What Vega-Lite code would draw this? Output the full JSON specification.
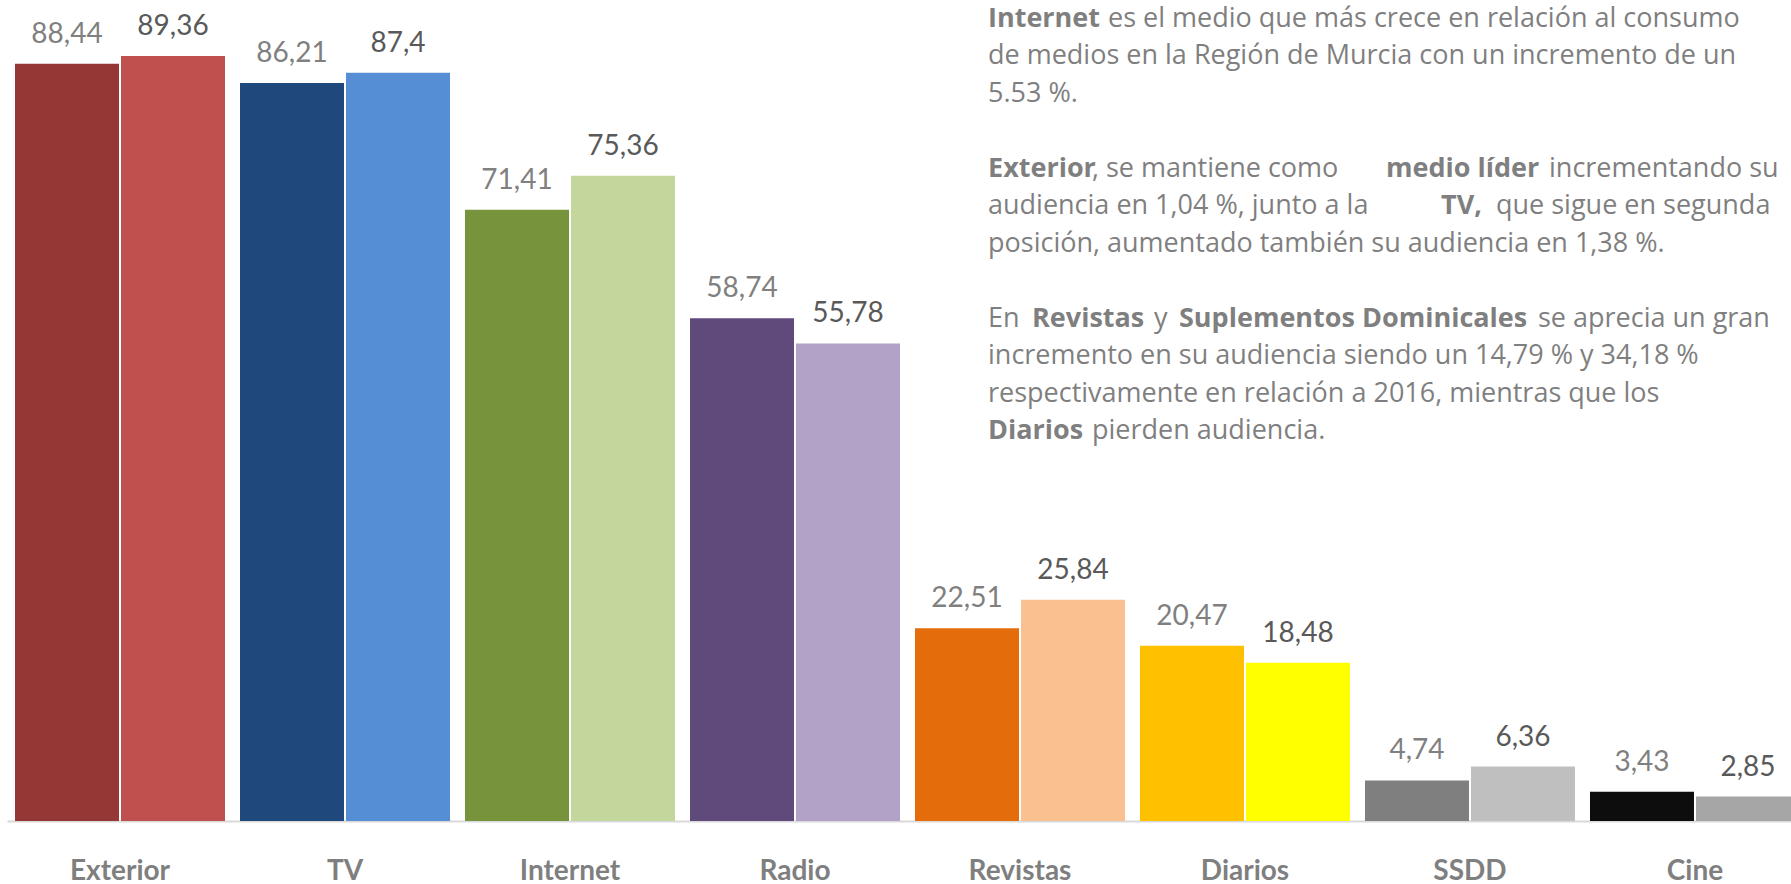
{
  "$schema": "https://vega.github.io/schema/vega-lite/v6.json",
  "width": 1784,
  "height": 821,
  "autosize": {"type": "none"},
  "padding": {"left": 7, "top": 0, "right": 0, "bottom": 63},
  "background": "white",
  "config": {
    "view": {"stroke": null},
    "locale": {"number": {"decimal": ",", "thousands": ".", "grouping": [3], "currency": ["", " €"]}},
    "text": {"font": "Open Sans", "fontSize": 27, "align": "left", "baseline": "alphabetic", "color": "#7f7f7f"}
  },
  "datasets": {
    "medios": [
      {"medio": "Exterior", "anio": "2016", "clave": "Exterior 2016", "valor": 88.44},
      {"medio": "Exterior", "anio": "2017", "clave": "Exterior 2017", "valor": 89.36},
      {"medio": "TV", "anio": "2016", "clave": "TV 2016", "valor": 86.21},
      {"medio": "TV", "anio": "2017", "clave": "TV 2017", "valor": 87.4},
      {"medio": "Internet", "anio": "2016", "clave": "Internet 2016", "valor": 71.41},
      {"medio": "Internet", "anio": "2017", "clave": "Internet 2017", "valor": 75.36},
      {"medio": "Radio", "anio": "2016", "clave": "Radio 2016", "valor": 58.74},
      {"medio": "Radio", "anio": "2017", "clave": "Radio 2017", "valor": 55.78},
      {"medio": "Revistas", "anio": "2016", "clave": "Revistas 2016", "valor": 22.51},
      {"medio": "Revistas", "anio": "2017", "clave": "Revistas 2017", "valor": 25.84},
      {"medio": "Diarios", "anio": "2016", "clave": "Diarios 2016", "valor": 20.47},
      {"medio": "Diarios", "anio": "2017", "clave": "Diarios 2017", "valor": 18.48},
      {"medio": "SSDD", "anio": "2016", "clave": "SSDD 2016", "valor": 4.74},
      {"medio": "SSDD", "anio": "2017", "clave": "SSDD 2017", "valor": 6.36},
      {"medio": "Cine", "anio": "2016", "clave": "Cine 2016", "valor": 3.43},
      {"medio": "Cine", "anio": "2017", "clave": "Cine 2017", "valor": 2.85}
    ],
    "texto": [
      {"grupo": "base_b", "linea": 0, "texto": "Internet"},
      {"grupo": "l0a", "linea": 0, "texto": "es el medio que más crece en relación al consumo"},
      {"grupo": "base", "linea": 1, "texto": "de medios en la Región de Murcia con un incremento de un"},
      {"grupo": "base", "linea": 2, "texto": "5.53 %."},
      {"grupo": "base_b", "linea": 4, "texto": "Exterior"},
      {"grupo": "l4a", "linea": 4, "texto": ", se mantiene como"},
      {"grupo": "l4b", "linea": 4, "texto": "medio líder"},
      {"grupo": "l4c", "linea": 4, "texto": "incrementando su"},
      {"grupo": "base", "linea": 5, "texto": "audiencia en 1,04 %, junto a la"},
      {"grupo": "l5b", "linea": 5, "texto": "TV,"},
      {"grupo": "l5c", "linea": 5, "texto": "que sigue en segunda"},
      {"grupo": "base", "linea": 6, "texto": "posición, aumentado también su audiencia en 1,38 %."},
      {"grupo": "base", "linea": 8, "texto": "En"},
      {"grupo": "l8b", "linea": 8, "texto": "Revistas"},
      {"grupo": "l8c", "linea": 8, "texto": "y"},
      {"grupo": "l8d", "linea": 8, "texto": "Suplementos Dominicales"},
      {"grupo": "l8e", "linea": 8, "texto": "se aprecia un gran"},
      {"grupo": "base", "linea": 9, "texto": "incremento en su audiencia siendo un 14,79 % y 34,18 %"},
      {"grupo": "base", "linea": 10, "texto": "respectivamente en relación a 2016, mientras que los"},
      {"grupo": "base_b", "linea": 11, "texto": "Diarios"},
      {"grupo": "l11a", "linea": 11, "texto": "pierden audiencia."}
    ]
  },
  "layer": [
    {
      "data": {"name": "medios"},
      "mark": {"type": "bar"},
      "encoding": {
        "x": {
          "field": "medio", "type": "nominal", "sort": null,
          "scale": {"range": [0, 1801], "paddingInner": 0.0667, "paddingOuter": 0.0356},
          "axis": {
            "title": null, "ticks": false, "grid": false,
            "domainColor": "#d9d9d9", "domainWidth": 2,
            "labelFont": "Lato", "labelFontWeight": "bold", "labelFontSize": 28,
            "labelColor": "#7f7f7f", "labelBaseline": "alphabetic", "labelPadding": 58,
            "labelAngle": 0
          }
        },
        "xOffset": {"field": "anio", "type": "nominal", "scale": {"paddingInner": 0.0189, "paddingOuter": 0}},
        "y": {"field": "valor", "type": "quantitative", "scale": {"domain": [0, 95.9], "nice": false}, "axis": null},
        "color": {
          "field": "clave", "type": "nominal", "legend": null,
          "scale": {
            "domain": ["Exterior 2016", "Exterior 2017", "TV 2016", "TV 2017", "Internet 2016", "Internet 2017", "Radio 2016", "Radio 2017", "Revistas 2016", "Revistas 2017", "Diarios 2016", "Diarios 2017", "SSDD 2016", "SSDD 2017", "Cine 2016", "Cine 2017"],
            "range": ["#953735", "#C0504D", "#1F497D", "#558ED5", "#77933C", "#C3D69B", "#604A7B", "#B3A2C7", "#E46C0A", "#FAC090", "#FFC000", "#FFFF00", "#7F7F7F", "#BFBFBF", "#0D0D0D", "#A6A6A6"]
          }
        }
      }
    },
    {
      "data": {"name": "medios"},
      "mark": {"type": "text", "font": "Lato", "fontSize": 28, "align": "center", "baseline": "alphabetic", "dy": -21},
      "encoding": {
        "x": {"field": "medio", "type": "nominal", "sort": null},
        "xOffset": {"field": "anio", "type": "nominal"},
        "y": {"field": "valor", "type": "quantitative", "scale": {"domain": [0, 95.9], "nice": false}, "axis": null},
        "text": {"field": "valor", "type": "quantitative", "format": ".2~f"},
        "color": {"condition": {"test": "datum.anio == '2016'", "value": "#808080"}, "value": "#595959"}
      }
    },
    {
      "data": {"name": "texto"},
      "transform": [{"filter": "datum.grupo == 'base'"}],
      "mark": {"type": "text", "dx": 73},
      "encoding": {
        "x": {"datum": "Revistas", "bandPosition": 0},
        "y": {"field": "linea", "type": "quantitative", "scale": {"domain": [0, 11], "range": [27, 439], "nice": false, "zero": false}, "axis": null},
        "text": {"field": "texto"}
      }
    },
    {
      "data": {"name": "texto"},
      "transform": [{"filter": "datum.grupo == 'base_b'"}],
      "mark": {"type": "text", "fontWeight": "bold", "dx": 73},
      "encoding": {
        "x": {"datum": "Revistas", "bandPosition": 0},
        "y": {"field": "linea", "type": "quantitative", "scale": {"domain": [0, 11], "range": [27, 439], "nice": false, "zero": false}, "axis": null},
        "text": {"field": "texto"}
      }
    },
    {
      "data": {"name": "texto"},
      "transform": [{"filter": "datum.grupo == 'l0a'"}],
      "mark": {"type": "text", "dx": 193},
      "encoding": {
        "x": {"datum": "Revistas", "bandPosition": 0},
        "y": {"field": "linea", "type": "quantitative", "scale": {"domain": [0, 11], "range": [27, 439], "nice": false, "zero": false}, "axis": null},
        "text": {"field": "texto"}
      }
    },
    {
      "data": {"name": "texto"},
      "transform": [{"filter": "datum.grupo == 'l4a'"}],
      "mark": {"type": "text", "dx": 177},
      "encoding": {
        "x": {"datum": "Revistas", "bandPosition": 0},
        "y": {"field": "linea", "type": "quantitative", "scale": {"domain": [0, 11], "range": [27, 439], "nice": false, "zero": false}, "axis": null},
        "text": {"field": "texto"}
      }
    },
    {
      "data": {"name": "texto"},
      "transform": [{"filter": "datum.grupo == 'l4b'"}],
      "mark": {"type": "text", "fontWeight": "bold", "dx": 471},
      "encoding": {
        "x": {"datum": "Revistas", "bandPosition": 0},
        "y": {"field": "linea", "type": "quantitative", "scale": {"domain": [0, 11], "range": [27, 439], "nice": false, "zero": false}, "axis": null},
        "text": {"field": "texto"}
      }
    },
    {
      "data": {"name": "texto"},
      "transform": [{"filter": "datum.grupo == 'l4c'"}],
      "mark": {"type": "text", "dx": 634},
      "encoding": {
        "x": {"datum": "Revistas", "bandPosition": 0},
        "y": {"field": "linea", "type": "quantitative", "scale": {"domain": [0, 11], "range": [27, 439], "nice": false, "zero": false}, "axis": null},
        "text": {"field": "texto"}
      }
    },
    {
      "data": {"name": "texto"},
      "transform": [{"filter": "datum.grupo == 'l5b'"}],
      "mark": {"type": "text", "fontWeight": "bold", "dx": 526},
      "encoding": {
        "x": {"datum": "Revistas", "bandPosition": 0},
        "y": {"field": "linea", "type": "quantitative", "scale": {"domain": [0, 11], "range": [27, 439], "nice": false, "zero": false}, "axis": null},
        "text": {"field": "texto"}
      }
    },
    {
      "data": {"name": "texto"},
      "transform": [{"filter": "datum.grupo == 'l5c'"}],
      "mark": {"type": "text", "dx": 581},
      "encoding": {
        "x": {"datum": "Revistas", "bandPosition": 0},
        "y": {"field": "linea", "type": "quantitative", "scale": {"domain": [0, 11], "range": [27, 439], "nice": false, "zero": false}, "axis": null},
        "text": {"field": "texto"}
      }
    },
    {
      "data": {"name": "texto"},
      "transform": [{"filter": "datum.grupo == 'l8b'"}],
      "mark": {"type": "text", "fontWeight": "bold", "dx": 117},
      "encoding": {
        "x": {"datum": "Revistas", "bandPosition": 0},
        "y": {"field": "linea", "type": "quantitative", "scale": {"domain": [0, 11], "range": [27, 439], "nice": false, "zero": false}, "axis": null},
        "text": {"field": "texto"}
      }
    },
    {
      "data": {"name": "texto"},
      "transform": [{"filter": "datum.grupo == 'l8c'"}],
      "mark": {"type": "text", "dx": 239},
      "encoding": {
        "x": {"datum": "Revistas", "bandPosition": 0},
        "y": {"field": "linea", "type": "quantitative", "scale": {"domain": [0, 11], "range": [27, 439], "nice": false, "zero": false}, "axis": null},
        "text": {"field": "texto"}
      }
    },
    {
      "data": {"name": "texto"},
      "transform": [{"filter": "datum.grupo == 'l8d'"}],
      "mark": {"type": "text", "fontWeight": "bold", "dx": 264},
      "encoding": {
        "x": {"datum": "Revistas", "bandPosition": 0},
        "y": {"field": "linea", "type": "quantitative", "scale": {"domain": [0, 11], "range": [27, 439], "nice": false, "zero": false}, "axis": null},
        "text": {"field": "texto"}
      }
    },
    {
      "data": {"name": "texto"},
      "transform": [{"filter": "datum.grupo == 'l8e'"}],
      "mark": {"type": "text", "dx": 623},
      "encoding": {
        "x": {"datum": "Revistas", "bandPosition": 0},
        "y": {"field": "linea", "type": "quantitative", "scale": {"domain": [0, 11], "range": [27, 439], "nice": false, "zero": false}, "axis": null},
        "text": {"field": "texto"}
      }
    },
    {
      "data": {"name": "texto"},
      "transform": [{"filter": "datum.grupo == 'l11a'"}],
      "mark": {"type": "text", "dx": 177},
      "encoding": {
        "x": {"datum": "Revistas", "bandPosition": 0},
        "y": {"field": "linea", "type": "quantitative", "scale": {"domain": [0, 11], "range": [27, 439], "nice": false, "zero": false}, "axis": null},
        "text": {"field": "texto"}
      }
    }
  ],
  "resolve": {"scale": {"y": "independent"}}
}
